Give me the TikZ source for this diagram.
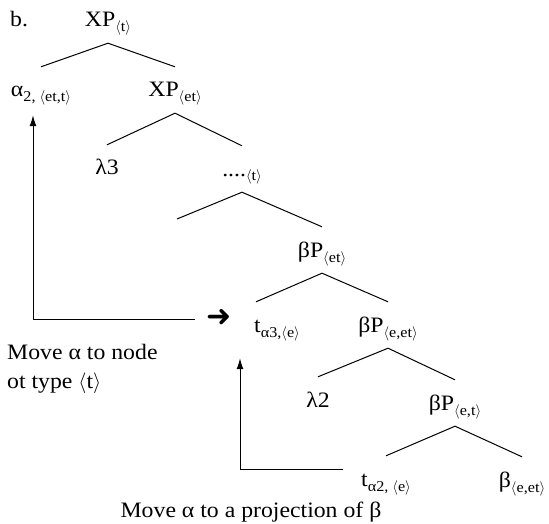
\documentclass[tikz,border=0pt]{standalone}
\usepackage{fontspec}
\setmainfont[FakeStretch=1.08]{Liberation Serif}
\newfontfamily\symfont{DejaVu Sans}
\usetikzlibrary{arrows.meta,calc}
\newcommand\lsub[1]{\raisebox{-5pt}{\fontsize{15}{15}\selectfont #1}}
\newcommand\myla{$\langle$}
\newcommand\myra{$\rangle$}
\begin{document}
\begin{tikzpicture}[x=1pt,y=-1pt,
  every node/.style={font=\fontsize{22}{22}\selectfont},
  tn/.style={anchor=base, inner xsep=0pt, inner ysep=8pt, text height=22pt, text depth=8pt},
  txt/.style={inner sep=0pt},
  edge/.style={line width=1pt},
  arr/.style={line width=1pt, -{Latex[length=11pt,width=7pt]}}]
\useasboundingbox (0,0) rectangle (549,524);
% labels
\node[txt, anchor=base west] (lblb) at (10,27) {b.};
% tree nodes
\node[tn] (XPt)   at (108,27)  {XP\lsub{\myla t\myra}};
\node[tn] (alpha) at (41,97)   {α\lsub{2, \myla et,t\myra}};
\node[tn] (XPet)  at (175,97)  {XP\lsub{\myla et\myra}};
\node[tn] (lam3)  at (107,175) {λ3};
\node[tn] (dots)  at (242,176) {....\lsub{\myla t\myra}};
\node[tn] (bPet)  at (322,257) {βP\lsub{\myla et\myra}};
\node[tn] (ta3)   at (277,332) {t\lsub{α3,\myla e\myra}};
\node[tn] (bPeet) at (388,332) {βP\lsub{\myla e,et\myra}};
\node[tn] (lam2)  at (318,407) {λ2};
\node[tn] (bPet2) at (455,410) {βP\lsub{\myla e,t\myra}};
\node[tn] (ta2)   at (386,486) {t\lsub{α2, \myla e\myra}};
\node[tn] (beet)  at (522,487) {β\lsub{\myla e,et\myra}};
\coordinate (dl) at (177,219);
% edges
\draw[edge] (alpha.north) -- (XPt.south) -- (XPet.north);
\draw[edge] (lam3.north) -- (XPet.south) -- (dots.north);
\draw[edge] (dl) -- (dots.south) -- (bPet.north);
\draw[edge] ([xshift=-21pt]ta3.north) -- (bPet.south) -- (bPeet.north);
\draw[edge] (lam2.north) -- (bPeet.south) -- (bPet2.north);
\draw[edge] (ta2.north) -- (bPet2.south) -- (beet.north);
% movement arrows
\node[txt, font=\symfont\fontsize{30}{30}\selectfont] (barr) at (219,318) {➜};
\coordinate (a1s) at (195,319);
\draw[arr] (a1s) -| ([xshift=-8pt,yshift=-2pt]alpha.south);
\coordinate (a2s) at (343,469);
\draw[arr] (a2s) -| ([xshift=-37pt,yshift=-10pt]ta3.south);
% captions
\node[txt, anchor=base west] (m1) at (7,359) {Move α to node};
\node[txt, anchor=base west] (m2) at (7,388) {ot type \myla t\myra};
\node[txt, anchor=base] (m3) at (251,517) {Move α to a projection of β};
\end{tikzpicture}
\end{document}
